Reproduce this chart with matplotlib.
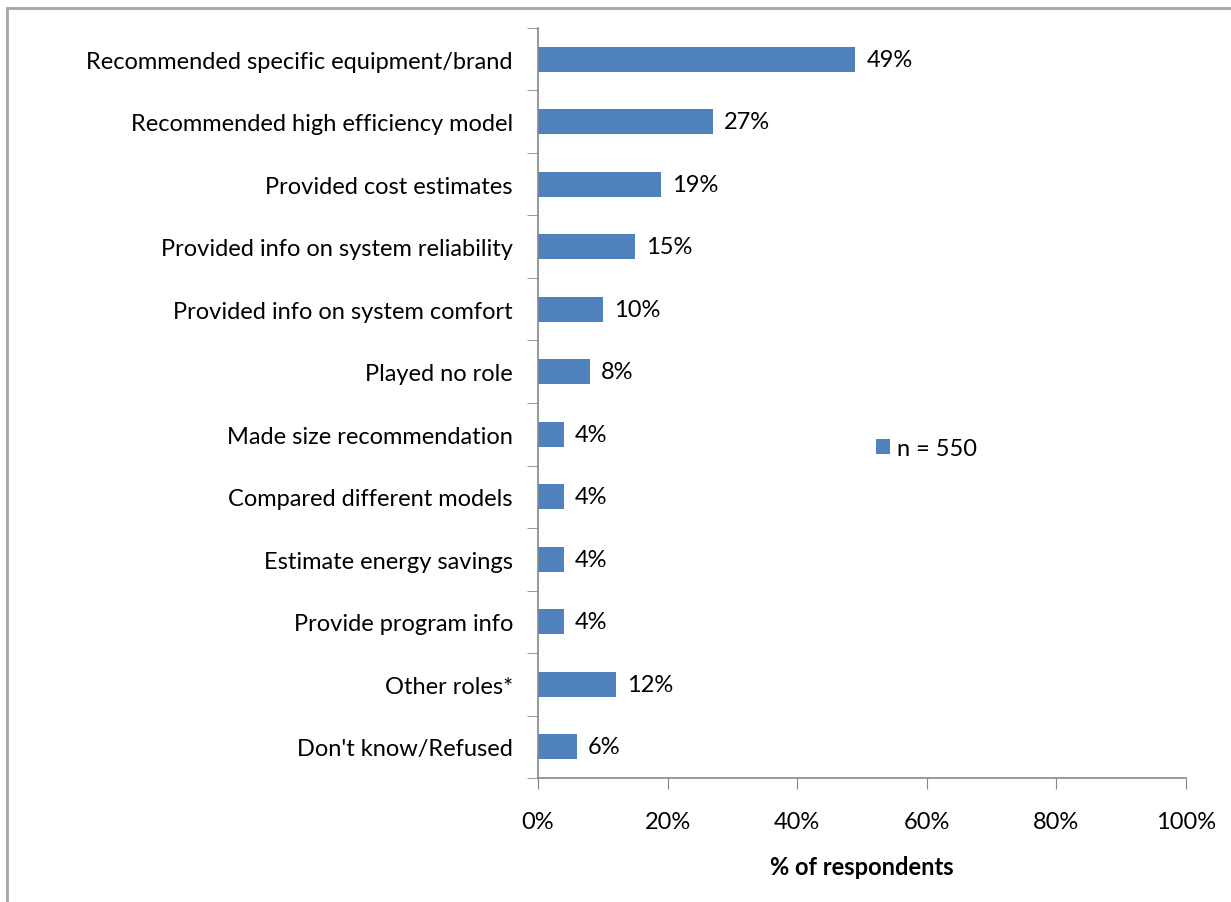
import matplotlib.pyplot as plt
from matplotlib.patches import Rectangle

# survey responses, top to bottom as listed
ROLES = [
    "Recommended specific equipment/brand",
    "Recommended high efficiency model",
    "Provided cost estimates",
    "Provided info on system reliability",
    "Provided info on system comfort",
    "Played no role",
    "Made size recommendation",
    "Compared different models",
    "Estimate energy savings",
    "Provide program info",
    "Other roles*",
    "Don't know/Refused",
]
PCT = [49, 27, 19, 15, 10, 8, 4, 4, 4, 4, 12, 6]
X_TICKS = [0, 20, 40, 60, 80, 100]
SERIES_NAME = "n = 550"

BLUE = "#4F81BD"
GRAY = "#868686"
FS = 17

plt.rcParams["font.family"] = ["Lato", "DejaVu Sans"]

fig = plt.figure(figsize=(12.31, 9.03), dpi=100)
ax = fig.add_axes([0.437, 0.1373, 0.9634 - 0.437, 0.9679 - 0.1373])

ypos = list(range(len(ROLES)))[::-1]
bars = ax.barh(ypos, PCT, height=0.4, color=BLUE, label=SERIES_NAME)
ax.bar_label(bars, labels=[f"{v}%" for v in PCT], padding=8, fontsize=FS)

ax.set_ylim(-0.5, len(ROLES) - 0.5)
ax.set_xlim(0, 100)
ax.set_yticks(ypos)
ax.set_yticklabels(ROLES, fontsize=FS)
ax.tick_params(axis="y", length=0, pad=18)
# category boundaries get the tick marks
ax.set_yticks([i - 0.5 for i in range(len(ROLES) + 1)], minor=True)
ax.tick_params(axis="y", which="minor", length=8, color=GRAY, direction="out")

ax.set_xticks(X_TICKS)
ax.set_xticklabels([f"{t}%" for t in X_TICKS], fontsize=FS)
ax.tick_params(axis="x", length=8, color=GRAY, direction="out", pad=16)
ax.set_xlabel("% of respondents", fontsize=FS, fontweight="bold", labelpad=16)

for side in ["top", "right"]:
    ax.spines[side].set_visible(False)
for side in ["left", "bottom"]:
    ax.spines[side].set_color(GRAY)
    ax.spines[side].set_linewidth(1.2)

ax.legend(loc="center left", bbox_to_anchor=(0.489, 0.44), frameon=False,
          fontsize=FS, handlelength=0.6, handleheight=0.6, handletextpad=0.3)

# chart area border, running off the right and bottom edges
fig.patches.append(Rectangle((7 / 1231, -0.1), 1.2, 1 - 9 / 903 + 0.1,
                             transform=fig.transFigure, fill=False,
                             edgecolor="#A6A6A6", linewidth=2))

fig.savefig("out.png", dpi=100)
